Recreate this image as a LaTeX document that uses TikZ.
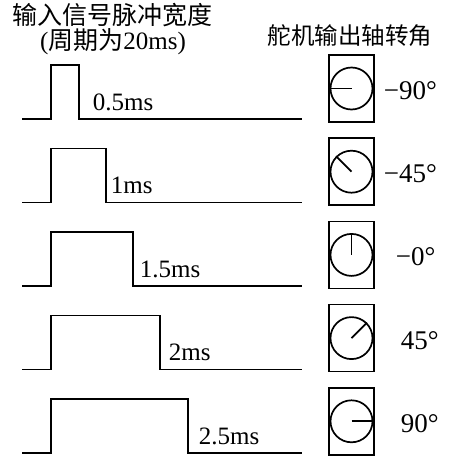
\documentclass[tikz,border=0pt]{standalone}
\usepackage{fontspec}
\setmainfont{Liberation Serif}
\newfontfamily\cjk{Noto Sans CJK SC}
\usetikzlibrary{positioning}

\begin{document}
\begin{tikzpicture}[x=1pt,y=-1pt,line width=1.7pt,
  wave/.style={line join=miter},
  dialbox/.style={rectangle,draw,minimum width=45pt,minimum height=67pt,inner sep=0pt},
  dial/.style={circle,draw,minimum size=42pt,inner sep=0pt},
  title/.style={font=\fontsize{25}{28}\selectfont\cjk,inner sep=0pt,
    text height=0.8em,text depth=0.1em},
  lbl/.style={font=\fontsize{25}{25}\selectfont,inner sep=0pt,anchor=base west}]
\useasboundingbox (0,0) rectangle (459,472);
% titles
\node [title] (intitle) at (112.5,21) {输入信号脉冲宽度};
\node [title,font=\fontsize{25}{28}\selectfont] (period) at (113,46) {({\cjk 周期为}20ms)};
\node [title,font=\fontsize{23.5}{26}\selectfont\cjk] (outtitle) at (350,41) {舵机输出轴转角};
% pulses and servo dials
\foreach \i/\fall/\txt/\tx/\ang/\deg/\dx in {
    1/79/0.5ms/92/180/{−90°}/383,
    2/106/1ms/110/135/{−45°}/383,
    3/133/1.5ms/139/90/{−0°}/395,
    4/160/2ms/168/45/{45°}/400,
    5/188/2.5ms/198/0/{90°}/400}{
  \pgfmathsetmacro{\base}{119+83.5*(\i-1)}
  \pgfmathsetmacro{\mid}{88.5+83.2*(\i-1)}
  \draw [wave] (22,\base) -- (51,\base) -- (51,\base-54) -- (\fall,\base-54)
    -- (\fall,\base) -- (302,\base);
  \node [lbl] (w\i) at (\tx,\base-9) {\txt};
  \node [dialbox] (box\i) at (351.5,\mid) {};
  \node [dial] (dial\i) at (box\i.center) {};
  \draw (dial\i.center) -- (dial\i.\ang);
  \node [lbl,font=\fontsize{27}{27}\selectfont] (deg\i) at (\dx,\mid+11) {\deg};
}
\end{tikzpicture}
\end{document}
